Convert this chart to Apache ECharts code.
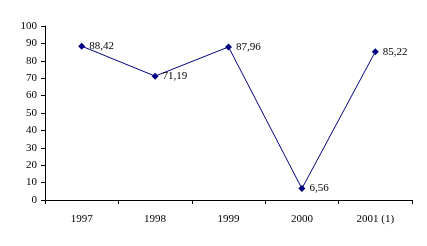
<!DOCTYPE html>
<html>
<head>
<meta charset="utf-8">
<script src="https://cdn.jsdelivr.net/npm/echarts@6/dist/echarts.min.js"></script>
<style>
  html, body { margin: 0; padding: 0; background: #fff; }
  #chart { width: 427px; height: 246px; }
</style>
</head>
<body>
<div id="chart"></div>
<script>
// 数据
var years = ['1997', '1998', '1999', '2000', '2001 (1)'];
var values = [88.42, 71.19, 87.96, 6.56, 85.22];
var yTicks = [0, 10, 20, 30, 40, 50, 60, 70, 80, 90, 100];

var font = '"Liberation Serif", "Times New Roman", serif';

var option = {
    animation: false,
    grid: { left: 45, right: 15, top: 26, bottom: 46 },
    xAxis: {
        type: 'category',
        data: years,
        boundaryGap: true,
        axisLine: { lineStyle: { color: '#000', width: 1 } },
        axisTick: { show: true, length: 4, inside: false, lineStyle: { color: '#000' } },
        axisLabel: { color: '#000', fontFamily: font, fontSize: 11, margin: 14 }
    },
    yAxis: {
        type: 'value',
        min: yTicks[0],
        max: yTicks[yTicks.length - 1],
        interval: 10,
        axisLine: { show: true, lineStyle: { color: '#000', width: 1 } },
        axisTick: { show: true, length: 4, lineStyle: { color: '#000' } },
        splitLine: { show: false },
        axisLabel: { color: '#000', fontFamily: font, fontSize: 11, margin: 8 }
    },
    series: [{
        type: 'line',
        data: values,
        symbol: 'diamond',
        symbolSize: 7,
        lineStyle: { color: '#000080', width: 1 },
        itemStyle: { color: '#000080' },
        label: {
            show: true,
            position: 'right',
            distance: 4,
            color: '#000',
            fontFamily: font,
            fontSize: 11,
            formatter: function (p) {
                return p.value.toFixed(2).replace('.', ',');
            }
        }
    }]
};

var myChart = echarts.init(document.getElementById('chart'));
myChart.setOption(option);
</script>
</body>
</html>
